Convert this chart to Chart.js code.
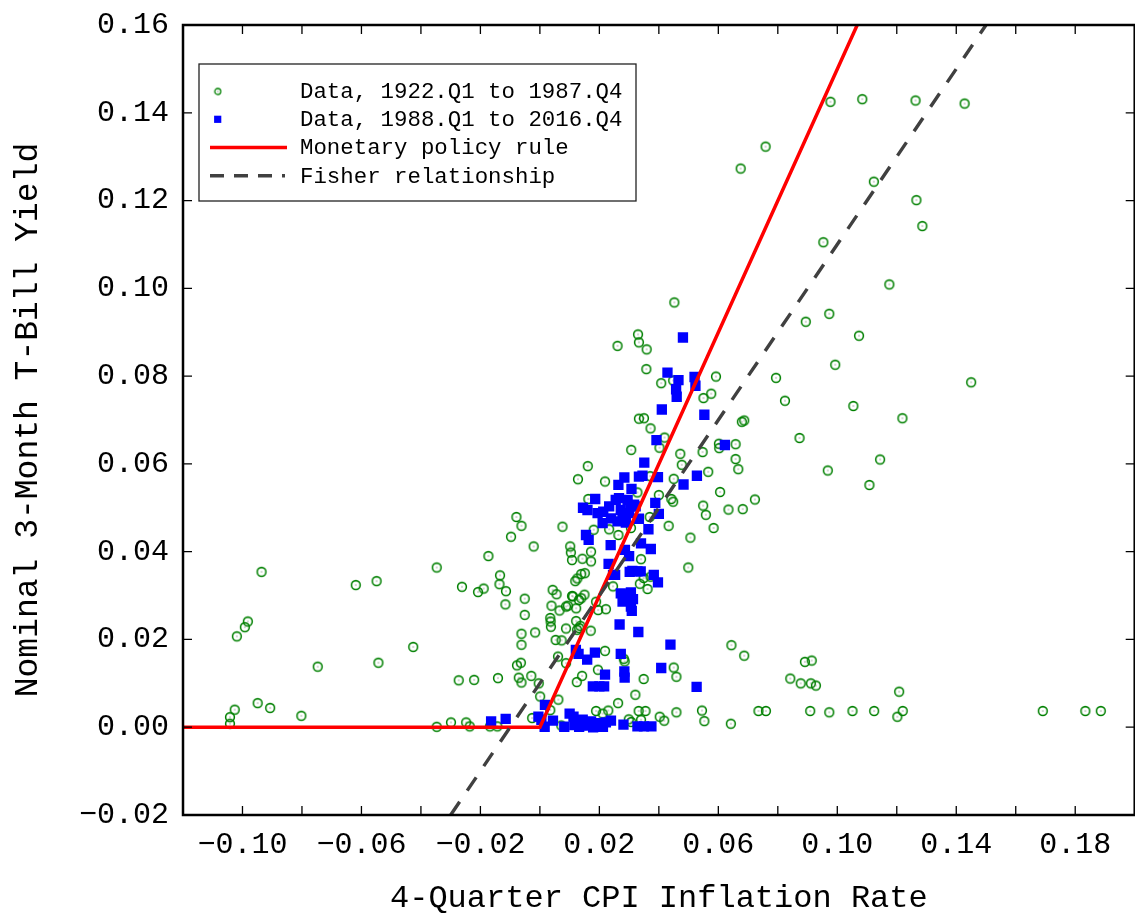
<!DOCTYPE html>
<html>
<head>
<meta charset="utf-8">
<script src="https://cdn.jsdelivr.net/npm/chart.js@4.4.1/dist/chart.umd.min.js"></script>
<style>
  html, body { margin: 0; padding: 0; background: #fff; overflow: hidden; }
  #wrap { width: 1142px; height: 913px; }
</style>
</head>
<body>
<div id="wrap"><canvas id="c" width="1142" height="913"></canvas></div>
<script>
// ---- Data ----
const inflation1922 = [
 -0.0936,-0.0619,-0.0549,-0.0347,-0.0982,-0.0992,-0.1019,-0.0747,-0.0543,-0.0426,
 -0.0262,-0.0173,-0.0079,-0.0062,-0.0097,-0.0134,-0.0136,-0.0114,-0.0189,-0.0208,
 -0.0116,-0.0051,-0.0051,-0.0062,-0.0062,-0.0077,-0.0064,-0.0071,-0.0062,-0.0141,
 -0.0273,-0.0221,-0.0949,-0.0907,-0.1026,-0.1042,-0.1042,-0.0802,-0.0347,-0.0299,
 -0.0248,-0.0236,-0.0168,-0.0143,0.0452,0.0330,0.0333,0.0359,0.0261,0.0358,
 0.0408,0.0448,0.0592,0.0576,0.0550,0.0333,0.0350,0.0372,0.0419,0.0402,
 0.0307,0.0472,0.0477,0.0547,0.0602,0.0603,0.0658,0.0679,0.0687,0.0658,
 0.0667,0.0566,0.0161,0.0128,0.0219,0.0450,0.0400,0.0442,0.0448,0.0606,
 0.0549,0.0558,0.0634,0.0682,0.0584,0.0506,0.0433,0.0369,-0.0021,0.0076,
 0.0102,0.0163,0.0181,0.0233,0.0264,0.0306,0.0328,0.0371,0.0499,-0.0016,
 -0.0029,-0.0004,0.0001,-0.0026,0.0062,0.0035,0.0043,0.0056,0.0039,0.0066,
 0.0035,0.0036,0.0037,0.0088,0.0094,0.0111,0.0122,0.0131,0.0139,0.0150,
 0.0053,0.0073,0.0088,0.0122,0.0125,0.0132,0.0136,0.0171,0.0189,0.0196,
 0.0222,0.0061,0.0088,0.0219,0.0282,0.0285,0.0195,0.0142,0.0124,0.0349,
 0.0321,0.0263,0.0189,0.0211,0.0230,0.0299,0.0307,0.0332,0.0355,0.0340,
 0.0403,0.0418,0.0459,0.0450,0.0459,0.0545,0.0553,0.0642,0.0644,0.0687,
 0.0336,0.0349,0.0372,0.0362,0.0246,0.0340,0.0104,0.0108,0.0143,0.0172,
 0.0126,0.0119,0.0139,0.0151,0.0072,0.0172,0.0108,0.0759,0.0675,0.1123,
 0.1266,0.1286,0.0953,0.1175,0.0973,0.0894,0.1073,0.0993,0.0794,0.0824,
 0.1054,0.1219,0.1450,0.0873,0.0977,0.1084,0.1263,0.1428,0.0723,0.0968,
 0.1144,0.1108,0.0891,0.0914,0.0842,0.0877,0.0911,0.0928,0.1208,0.0735,
 0.0760,0.0909,0.0973,0.1051,0.1124,0.1220,0.1202,0.1691,0.1834,0.1886
];
const tbill1922 = [
 0.0354,0.0324,0.0333,0.0364,0.0241,0.0228,0.0207,0.0138,0.0147,0.0183,
 0.0320,0.0390,0.0479,0.0459,0.0434,0.0346,0.0326,0.0310,0.0316,0.0308,
 0.0280,0.0293,0.0256,0.0213,0.0188,0.0141,0.0147,0.0113,0.0102,0.0112,
 0.0107,0.0108,0.0055,0.0044,0.0040,0.0023,0.0008,0.0026,0.0001,0.0011,
 0.0011,0.0002,0.0002,0.0002,0.0968,0.0895,0.0877,0.0861,0.0869,0.0816,
 0.0784,0.0790,0.0799,0.0760,0.0750,0.0703,0.0704,0.0681,0.0660,0.0637,
 0.0632,0.0623,0.0598,0.0627,0.0646,0.0636,0.0645,0.0696,0.0699,0.0611,
 0.0588,0.0582,0.0595,0.0565,0.0560,0.0566,0.0529,0.0520,0.0514,0.0536,
 0.0505,0.0484,0.0496,0.0497,0.0454,0.0432,0.0459,0.0479,0.0412,0.0457,
 0.0412,0.0520,0.0450,0.0451,0.0438,0.0454,0.0535,0.0572,0.0364,0.0216,
 0.0117,0.0100,0.0070,0.0021,0.0063,0.0039,0.0313,0.0303,0.0277,0.0266,
 0.0249,0.0241,0.0229,0.0275,0.0277,0.0298,0.0271,0.0290,0.0294,0.0302,
 0.0199,0.0198,0.0225,0.0242,0.0222,0.0226,0.0231,0.0220,0.0286,0.0267,
 0.0269,0.0161,0.0146,0.0174,0.0156,0.0150,0.0131,0.0117,0.0103,0.0110,
 0.0074,0.0055,0.0037,0.0031,0.0038,0.0018,0.0012,0.0037,0.0037,0.0017,
 0.0024,0.0015,0.0034,0.0136,0.0115,0.0038,0.0014,0.0008,0.0187,0.0163,
 0.0327,0.0340,0.0343,0.0315,0.0321,0.0383,0.0398,0.0381,0.0384,0.0378,
 0.0339,0.0333,0.0349,0.0351,0.0004,0.0400,0.0299,0.1323,0.1273,0.1243,
 0.1201,0.1142,0.1105,0.1009,0.0942,0.0924,0.0892,0.0826,0.0796,0.0744,
 0.0732,0.0704,0.0786,0.0659,0.1425,0.1431,0.1428,0.1421,0.0519,0.0585,
 0.0610,0.0552,0.0149,0.0152,0.0111,0.0100,0.0100,0.0095,0.0081,0.0037,
 0.0037,0.0037,0.0034,0.0037,0.0037,0.0037,0.0024,0.0037,0.0037,0.0037
];
const inflation1988 = [
 0.0481,0.0429,0.0466,0.0458,0.0460,0.0520,0.0523,0.0410,0.0553,0.0622,
 0.0392,0.0351,0.0333,0.0345,0.0397,0.0284,0.0264,0.0308,0.0483,0.0528,
 0.0186,0.0145,0.0160,0.0194,0.0213,0.0233,0.0255,0.0266,0.0295,0.0278,
 0.0300,0.0317,0.0239,0.0261,0.0289,0.0211,0.0388,0.0400,0.0333,0.0365,
 0.0155,0.0164,0.0238,0.0340,0.0373,0.0272,0.0306,0.0322,0.0289,0.0286,
 0.0300,0.0231,0.0311,0.0339,0.0302,0.0383,0.0397,0.0253,0.0272,0.0306,
 0.0289,0.0246,0.0328,0.0283,0.0313,0.0278,0.0306,0.0309,0.0268,0.0331,
 0.0439,0.0121,0.0130,0.0159,0.0185,0.0272,0.0219,0.0284,0.0285,0.0408,
 0.0527,0.0178,0.0200,0.0216,0.0017,-0.0005,0.0005,0.0016,0.0044,0.0100,
 0.0113,0.0125,0.0139,0.0155,0.0172,0.0189,0.0200,0.0222,0.0239,0.0116,
 0.0144,0.0281,0.0328,0.0350,0.0375,-0.0164,-0.0115,0.0082,0.0179,0.0212,
 0.0132
];
const tbill1988 = [
 0.0888,0.0808,0.0791,0.0770,0.0753,0.0798,0.0778,0.0724,0.0712,0.0643,
 0.0654,0.0603,0.0571,0.0573,0.0570,0.0569,0.0552,0.0543,0.0553,0.0573,
 0.0520,0.0500,0.0495,0.0488,0.0491,0.0503,0.0518,0.0522,0.0518,0.0488,
 0.0488,0.0507,0.0476,0.0469,0.0466,0.0465,0.0511,0.0486,0.0475,0.0451,
 0.0438,0.0427,0.0415,0.0419,0.0406,0.0495,0.0503,0.0503,0.0484,0.0404,
 0.0390,0.0372,0.0356,0.0355,0.0354,0.0347,0.0330,0.0347,0.0305,0.0307,
 0.0294,0.0347,0.0355,0.0302,0.0292,0.0286,0.0275,0.0265,0.0234,0.0217,
 0.0188,0.0176,0.0167,0.0154,0.0170,0.0167,0.0120,0.0127,0.0113,0.0135,
 0.0092,0.0093,0.0093,0.0093,0.0051,0.0024,0.0017,0.0001,0.0015,0.0031,
 0.0024,0.0009,0.0005,0.0004,0.0013,0.0009,0.0004,0.0011,0.0015,0.0005,
 0.0017,0.0006,0.0002,0.0002,0.0002,0.0013,0.0019,0.0001,0.0000,0.0001,
 0.0001
];
// Monetary policy rule (kinked line) and Fisher relationship (line) end/kink points
const policyX = [-0.12, 0.0, 0.1067];
const policyY = [0.0, 0.0, 0.16];
const fisherX = [-0.03, 0.15];
const fisherY = [-0.02, 0.16];

// Axis ticks
const xTickValues = [-0.10,-0.08,-0.06,-0.04,-0.02,0.00,0.02,0.04,0.06,0.08,0.10,0.12,0.14,0.16,0.18];
const xTickLabels = ['\u22120.10','','\u22120.06','','\u22120.02','','0.02','','0.06','','0.10','','0.14','','0.18'];
const yTickValues = [-0.02,0.00,0.02,0.04,0.06,0.08,0.10,0.12,0.14,0.16];
const yTickLabels = ['\u22120.02','0.00','0.02','0.04','0.06','0.08','0.10','0.12','0.14','0.16'];

const seriesLabels = ['Data, 1922.Q1 to 1987.Q4','Data, 1988.Q1 to 2016.Q4','Monetary policy rule','Fisher relationship'];
const xTitle = '4-Quarter CPI Inflation Rate';
const yTitle = 'Nominal 3-Month T-Bill Yield';

// ---- Styles ----
const FONT = "'Liberation Mono', 'DejaVu Sans Mono', monospace";
const GREEN = '#008000';
const BLUE = '#0000ff';
const RED = '#ff0000';
const GRAY = '#404040';

function circleMarker(r, lw, size) {
  const cv = document.createElement('canvas');
  cv.width = size; cv.height = size;
  const g = cv.getContext('2d');
  g.strokeStyle = GREEN; g.lineWidth = lw;
  g.beginPath(); g.arc(size/2, size/2, r, 0, Math.PI*2); g.stroke();
  g.fillStyle = '#4d6b4d';
  g.fillRect(size/2 - 0.5, size/2 - 0.5, 1, 1);
  return cv;
}
const greenMarker = circleMarker(4.4, 1.55, 14);
const greenLegendMarker = circleMarker(3.0, 1.3, 10);

function pairs(xs, ys) { return xs.map((x, i) => ({x: x, y: ys[i]})); }

const frameAndTicks = {
  id: 'frameAndTicks',
  afterDatasetsDraw(chart) {
    const {ctx, chartArea: a, scales} = chart;
    const xs = scales.x, ys = scales.y;
    ctx.save();
    ctx.strokeStyle = '#000';
    ctx.lineWidth = 1.3;
    const L = 9;
    ctx.beginPath();
    xs.ticks.forEach(t => {
      const px = xs.getPixelForValue(t.value);
      ctx.moveTo(px, a.bottom); ctx.lineTo(px, a.bottom - L);
      ctx.moveTo(px, a.top); ctx.lineTo(px, a.top + L);
    });
    ys.ticks.forEach(t => {
      const py = ys.getPixelForValue(t.value);
      ctx.moveTo(a.left, py); ctx.lineTo(a.left + L, py);
      ctx.moveTo(a.right, py); ctx.lineTo(a.right - L, py);
    });
    ctx.stroke();
    ctx.lineWidth = 2.5;
    ctx.strokeRect(a.left, a.top, a.right - a.left, a.bottom - a.top);

    // Legend box
    const bx = a.left + 16, by = a.top + 39, bw = 437, bh = 137;
    ctx.fillStyle = '#fff';
    ctx.fillRect(bx, by, bw, bh);
    ctx.lineWidth = 1.3; ctx.strokeStyle = '#222';
    ctx.strokeRect(bx, by, bw, bh);
    const rows = [by + 27.5, by + 55.3, by + 83.5, by + 111.8];
    const sx0 = bx + 11, sx1 = bx + 88, mx = bx + 18.7;
    ctx.drawImage(greenLegendMarker, mx - 5, rows[0] - 5);
    ctx.fillStyle = BLUE;
    ctx.fillRect(mx - 3.6, rows[1] - 3.6, 7.2, 7.2);
    ctx.strokeStyle = RED; ctx.lineWidth = 3.4;
    ctx.beginPath(); ctx.moveTo(sx0, rows[2]); ctx.lineTo(sx1, rows[2]); ctx.stroke();
    ctx.strokeStyle = GRAY; ctx.lineWidth = 3.4;
    ctx.setLineDash([14, 10]);
    ctx.beginPath(); ctx.moveTo(sx0, rows[3]); ctx.lineTo(sx1 - 2, rows[3]); ctx.stroke();
    ctx.setLineDash([]);
    ctx.fillStyle = '#000';
    ctx.font = "22.4px " + FONT;
    ctx.textBaseline = 'middle';
    ctx.textAlign = 'left';
    seriesLabels.forEach((s, i) => ctx.fillText(s, bx + 101, rows[i] + 1));
    ctx.restore();
  }
};

Chart.defaults.font.family = FONT;
Chart.defaults.color = '#000';

new Chart(document.getElementById('c'), {
  type: 'scatter',
  data: {
    datasets: [
      { label: seriesLabels[0], data: pairs(inflation1922, tbill1922), pointStyle: greenMarker,
        pointRadius: 5, borderWidth: 0, order: 4 },
      { label: seriesLabels[1], data: pairs(inflation1988, tbill1988), pointStyle: 'rect',
        pointRadius: 7.3, backgroundColor: BLUE, borderColor: BLUE, borderWidth: 0, order: 3 },
      { label: seriesLabels[2], data: pairs(policyX, policyY), showLine: true, pointRadius: 0,
        borderColor: RED, borderWidth: 3.5, order: 2 },
      { label: seriesLabels[3], data: pairs(fisherX, fisherY), showLine: true, pointRadius: 0,
        borderColor: GRAY, borderWidth: 3.4, borderDash: [16, 13.5], order: 1 }
    ]
  },
  options: {
    responsive: false,
    animation: false,
    devicePixelRatio: 1,
    events: [],
    layout: { padding: { top: 25, left: 0, right: 0, bottom: 0 } },
    plugins: { legend: { display: false }, tooltip: { enabled: false } },
    scales: {
      x: {
        type: 'linear', min: -0.12, max: 0.20,
        afterBuildTicks: s => { s.ticks = xTickValues.map(v => ({value: v})); },
        afterFit: s => { s.height = 98; s.paddingLeft = 0; s.paddingRight = 0; },
        grid: { display: false, drawTicks: false },
        border: { display: false },
        ticks: { autoSkip: false, maxRotation: 0, minRotation: 0, padding: 12,
                 font: { size: 30 }, color: '#000',
                 callback: (v, i) => xTickLabels[i] },
        title: { display: true, text: xTitle, font: { size: 32 }, color: '#000',
                 padding: { top: 0, bottom: -5 } }
      },
      y: {
        type: 'linear', min: -0.02, max: 0.16,
        afterBuildTicks: s => { s.ticks = yTickValues.map(v => ({value: v})); },
        afterFit: s => { s.width = 183; s.paddingTop = 0; s.paddingBottom = 0; },
        grid: { display: false, drawTicks: false },
        border: { display: false },
        ticks: { autoSkip: false, padding: 14, font: { size: 30 }, color: '#000',
                 callback: (v, i) => yTickLabels[i] },
        title: { display: true, text: yTitle, font: { size: 33 }, color: '#000',
                 padding: { top: 8, bottom: 0 } }
      }
    }
  },
  plugins: [frameAndTicks]
});
</script>
</body>
</html>
